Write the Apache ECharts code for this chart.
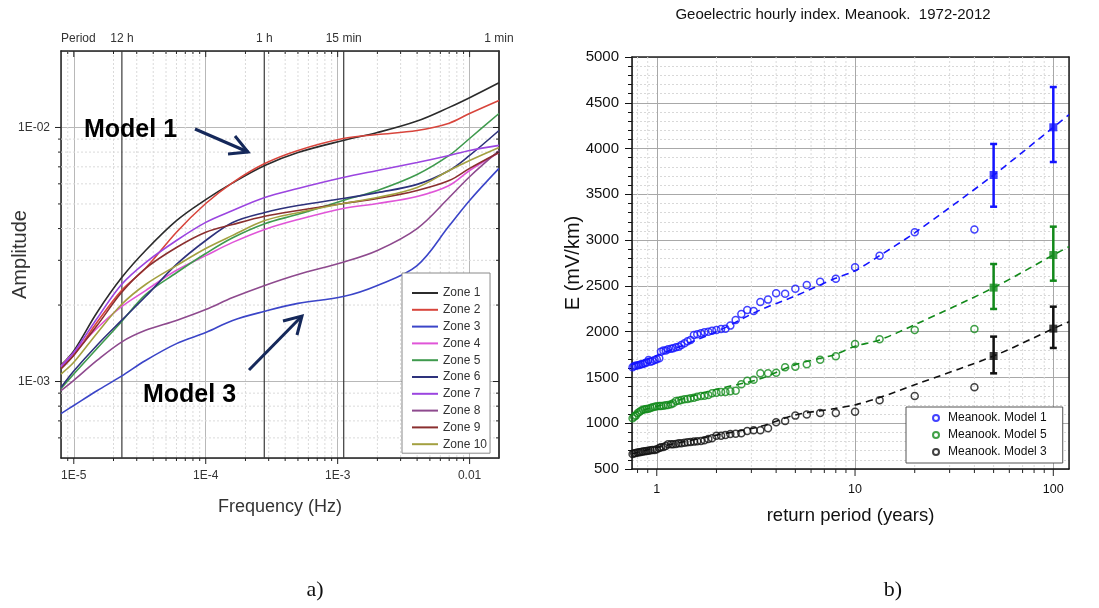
<!DOCTYPE html>
<html>
<head>
<meta charset="utf-8">
<script src="https://cdn.jsdelivr.net/npm/echarts@6/dist/echarts.min.js"></script>
<style>
  html, body { margin: 0; padding: 0; background: #fff; }
  #chart { width: 1099px; height: 608px; }
</style>
</head>
<body>
<div id="chart"></div>
<script>
// ---- panel a) : amplitude vs frequency ----
const freqHz = [8e-6, 1e-5, 1.5e-5, 2.3e-5, 3.5e-5, 6e-5, 1e-4, 1.6e-4, 2.8e-4, 5e-4, 1.1e-3, 2e-3, 4e-3, 7e-3, 1e-2, 1.67e-2]; // sample frequencies
const zoneNames = ["Zone 1", "Zone 2", "Zone 3", "Zone 4", "Zone 5", "Zone 6", "Zone 7", "Zone 8", "Zone 9", "Zone 10"];
const zoneColors = ["#2b2b2b", "#d8453c", "#3b45c8", "#e055d8", "#3f9a4e", "#2e327c", "#9b45e0", "#8e4a8e", "#8a2f2f", "#a3a040"];
const zone1 = [0.00116, 0.00132, 0.00187, 0.00256, 0.00328, 0.0043, 0.0052, 0.00605, 0.00708, 0.00797, 0.00889, 0.00955, 0.0106, 0.012, 0.0131, 0.0150];
const zone2 = [0.00114, 0.00127, 0.00171, 0.00228, 0.00279, 0.00387, 0.00502, 0.00607, 0.00721, 0.00812, 0.00905, 0.00938, 0.00973, 0.0104, 0.01135, 0.01277];
const zone3 = [0.000748, 0.000805, 0.00092, 0.00105, 0.00121, 0.00141, 0.00156, 0.00174, 0.00189, 0.00203, 0.00216, 0.00239, 0.00286, 0.0041, 0.00516, 0.0069];
const zone4 = [0.00115, 0.0013, 0.00162, 0.00197, 0.00228, 0.00274, 0.00313, 0.00353, 0.00397, 0.00434, 0.0048, 0.00502, 0.00535, 0.00591, 0.00677, 0.00797];
const zone5 = [0.00094, 0.00107, 0.00135, 0.00172, 0.0022, 0.00268, 0.00319, 0.00368, 0.00418, 0.00455, 0.00516, 0.00565, 0.00653, 0.00776, 0.00905, 0.01135];
const zone6 = [0.000947, 0.0011, 0.00139, 0.00174, 0.00216, 0.00289, 0.00359, 0.00423, 0.00463, 0.00493, 0.00525, 0.00554, 0.00597, 0.00677, 0.00776, 0.00973];
const zone7 = [0.00114, 0.0013, 0.00177, 0.00241, 0.00294, 0.00359, 0.00423, 0.00471, 0.0053, 0.00575, 0.00635, 0.00677, 0.00728, 0.00776, 0.00812, 0.0085];
const zone8 = [0.00092, 0.00101, 0.00121, 0.00143, 0.00159, 0.00174, 0.00192, 0.00214, 0.00239, 0.00264, 0.00295, 0.00328, 0.0040, 0.0053, 0.0064, 0.0081];
const zone9 = [0.00112, 0.00127, 0.00166, 0.00224, 0.00279, 0.00337, 0.00387, 0.00415, 0.00447, 0.00471, 0.00502, 0.00525, 0.00565, 0.00618, 0.0069, 0.00797];
const zone10 = [0.00107, 0.00119, 0.00155, 0.00201, 0.00241, 0.00286, 0.00334, 0.00376, 0.0043, 0.00462, 0.00502, 0.0053, 0.00581, 0.00677, 0.00741, 0.00834];
const zoneValues = [zone1, zone2, zone3, zone4, zone5, zone6, zone7, zone8, zone9, zone10];

const periodFreq = [2.3148e-5, 2.7778e-4, 1.1111e-3, 0.016667]; // 12 h, 1 h, 15 min, 1 min
const periodLabels = ["12 h", "1 h", "15 min", "1 min"];
const freqMin = 8e-6; // x axis range
const freqMax = 0.0167;
const ampMin = 5e-4; // y axis range
const ampMax = 2e-2;
const leftMajorX = [1e-5, 1e-4, 1e-3, 1e-2];
const leftMinorX = [9e-6, 2e-5, 3e-5, 4e-5, 5e-5, 6e-5, 7e-5, 8e-5, 9e-5, 2e-4, 3e-4, 4e-4, 5e-4, 6e-4, 7e-4, 8e-4, 9e-4, 2e-3, 3e-3, 4e-3, 5e-3, 6e-3, 7e-3, 8e-3, 9e-3];
const leftMajorY = [1e-3, 1e-2];
const leftMinorY = [6e-4, 7e-4, 8e-4, 9e-4, 2e-3, 3e-3, 4e-3, 5e-3, 6e-3, 7e-3, 8e-3, 9e-3];

// ---- panel b) : geoelectric index vs return period ----
const returnPeriod = [40, 20, 13.3, 10, 8, 6.67, 5.71, 5, 4.44, 4, 3.64, 3.33, 3.08, 2.86, 2.67, 2.5, 2.35, 2.22, 2.11, 2, 1.9, 1.82, 1.74, 1.67, 1.6, 1.54, 1.48, 1.43, 1.38, 1.33, 1.29, 1.25, 1.21, 1.18, 1.14, 1.11, 1.08, 1.05, 1.03, 1, 0.976, 0.952, 0.93, 0.909, 0.889, 0.87, 0.851, 0.833, 0.816, 0.8, 0.784, 0.769, 0.755];
const model1Pts = [3115, 3085, 2830, 2703, 2579, 2545, 2510, 2468, 2415, 2420, 2350, 2325, 2226, 2237, 2193, 2128, 2066, 2033, 2029, 2018, 2011, 2000, 1993, 1982, 1971, 1964, 1909, 1895, 1873, 1855, 1836, 1829, 1818, 1814, 1807, 1793, 1793, 1782, 1709, 1698, 1691, 1680, 1672, 1691, 1662, 1654, 1647, 1643, 1636, 1632, 1629, 1625, 1611];
const model5Pts = [2029, 2018, 1916, 1865, 1731, 1694, 1643, 1618, 1611, 1552, 1545, 1545, 1476, 1465, 1425, 1356, 1349, 1341, 1341, 1334, 1327, 1308, 1301, 1298, 1290, 1279, 1272, 1265, 1261, 1254, 1246, 1243, 1217, 1206, 1199, 1195, 1192, 1188, 1188, 1185, 1181, 1174, 1166, 1159, 1155, 1152, 1148, 1137, 1123, 1108, 1083, 1072, 1054];
const model3Pts = [1392, 1298, 1250, 1126, 1112, 1112, 1094, 1083, 1024, 1010, 944, 923, 923, 915, 890, 886, 882, 872, 864, 864, 835, 828, 813, 806, 802, 799, 795, 791, 788, 781, 781, 773, 770, 770, 770, 751, 740, 737, 729, 715, 708, 708, 704, 700, 697, 693, 690, 686, 682, 679, 675, 671, 664];

const fitPeriod = [0.75, 1, 2, 3.27, 5, 7.9, 10, 13.3, 20, 50, 100, 120]; // dashed fitted curves
const model1Fit = [1640, 1740, 2000, 2230, 2390, 2580, 2665, 2830, 3080, 3711, 4232, 4370];
const model5Fit = [1110, 1185, 1370, 1480, 1640, 1750, 1840, 1910, 2075, 2481, 2837, 2928];
const model3Fit = [665, 735, 870, 960, 1090, 1160, 1200, 1280, 1420, 1734, 2033, 2109];

const errPeriod = [50, 100]; // estimates with error bars
const model1Mid = [3711, 4232];
const model1Lo = [3365, 3853];
const model1Hi = [4050, 4672];
const model5Mid = [2481, 2837];
const model5Lo = [2248, 2557];
const model5Hi = [2739, 3147];
const model3Mid = [1734, 2033];
const model3Lo = [1545, 1822];
const model3Hi = [1946, 2273];

const modelNames = ["Meanook. Model 1", "Meanook. Model 5", "Meanook. Model 3"];
const modelColors = ["#1414ff", "#12891a", "#111111"];
const rpMin = 0.75;
const rpMax = 120;
const rightMajorX = [1, 10, 100];
const rightMinorX = [0.8, 0.9, 2, 3, 4, 5, 6, 7, 8, 9, 20, 30, 40, 50, 60, 70, 80, 90];

const fontFam = '"Liberation Sans", Arial, sans-serif';
const myChart = echarts.init(document.getElementById("chart"));

// is v a power of ten
function isDecade(v) {
  const e = Math.log10(v);
  return Math.abs(e - Math.round(e)) < 1e-6;
}

// short tick mark drawn from an axis edge (0 bottom-out, 1 top-in, 2 left-out, 3 right-in)
function renderTick(params, api) {
  const p = api.coord([api.value(0), api.value(1)]);
  const side = api.value(2);
  const len = api.value(3);
  let x2 = p[0];
  let y2 = p[1];
  if (side === 0 || side === 1) y2 += len;
  else x2 -= len;
  return {
    type: "line",
    shape: { x1: p[0], y1: p[1], x2: x2, y2: y2 },
    style: { stroke: "#222", lineWidth: 1 },
  };
}

// dashed minor grid line across the whole grid (0 vertical, 1 horizontal)
function renderGridLine(params, api) {
  const cs = params.coordSys;
  const p = api.coord([api.value(0), api.value(1)]);
  const shape = api.value(2) === 0
    ? { x1: p[0], y1: cs.y, x2: p[0], y2: cs.y + cs.height }
    : { x1: cs.x, y1: p[1], x2: cs.x + cs.width, y2: p[1] };
  return { type: "line", shape: shape, style: { stroke: "#dadada", lineWidth: 1, lineDash: [2, 2] } };
}

// period marker: vertical line plus label above the frame
function renderPeriod(params, api) {
  const cs = params.coordSys;
  const p = api.coord([api.value(0), api.value(1)]);
  return {
    type: "group",
    children: [
      { type: "line", shape: { x1: p[0], y1: cs.y, x2: p[0], y2: cs.y + cs.height }, style: { stroke: "#3a3a3a", lineWidth: 1.2 } },
      {
        type: "text",
        x: p[0],
        y: cs.y - 12,
        style: { text: periodLabels[api.value(2)], font: "12px " + fontFam, fill: "#333", align: "center", verticalAlign: "middle" },
      },
    ],
  };
}

// vertical error bar with caps
function renderErr(params, api) {
  const x = api.value(0);
  const lo = api.coord([x, api.value(1)]);
  const hi = api.coord([x, api.value(2)]);
  const color = api.visual("color");
  const st = { stroke: color, lineWidth: 2.5 };
  return {
    type: "group",
    children: [
      { type: "line", shape: { x1: lo[0], y1: lo[1], x2: hi[0], y2: hi[1] }, style: st },
      { type: "line", shape: { x1: lo[0] - 3.5, y1: lo[1], x2: lo[0] + 3.5, y2: lo[1] }, style: st },
      { type: "line", shape: { x1: hi[0] - 3.5, y1: hi[1], x2: hi[0] + 3.5, y2: hi[1] }, style: st },
    ],
  };
}

// tick data for panel a)
const leftTickData = [];
leftMinorX.forEach(v => leftTickData.push([v, ampMin, 0, 3], [v, ampMax, 1, 3]));
leftMajorX.forEach(v => leftTickData.push([v, ampMin, 0, 6], [v, ampMax, 1, 6]));
leftMinorY.forEach(v => leftTickData.push([freqMin, v, 2, 3], [freqMax, v, 3, 3]));
leftMajorY.forEach(v => leftTickData.push([freqMin, v, 2, 6], [freqMax, v, 3, 6]));
// minor grid data for panel a)
const leftGridData = leftMinorX.map(v => [v, ampMin, 0]).concat(leftMinorY.map(v => [freqMin, v, 1]));
const periodData = periodFreq.map((v, i) => [v, ampMin, i]);

// tick and minor grid data for panel b) (x axis only, y uses native ticks)
const rightTickData = [];
rightMinorX.forEach(v => rightTickData.push([v, 500, 0, 4]));
rightMajorX.forEach(v => rightTickData.push([v, 500, 0, 7]));
const rightGridData = rightMinorX.map(v => [v, 500, 0]);

const minorLine = { color: "#d8d8d8", type: [2, 2], width: 1 };
const labelStyle = { fontFamily: fontFam, color: "#333" };

const series = [];

series.push({
  type: "custom",
  xAxisIndex: 0,
  yAxisIndex: 0,
  silent: true,
  clip: false,
  renderItem: renderGridLine,
  encode: { x: 0, y: 1 },
  data: leftGridData,
  z: 1,
});
series.push({
  type: "custom",
  xAxisIndex: 0,
  yAxisIndex: 0,
  silent: true,
  clip: false,
  renderItem: renderPeriod,
  encode: { x: 0, y: 1 },
  data: periodData,
  z: 1,
});
// zone curves
zoneNames.forEach((name, i) => {
  series.push({
    name: name,
    type: "line",
    xAxisIndex: 0,
    yAxisIndex: 0,
    data: freqHz.map((f, k) => [f, zoneValues[i][k]]),
    smooth: 0.35,
    showSymbol: false,
    symbol: "none",
    itemStyle: { color: zoneColors[i] },
    lineStyle: { color: zoneColors[i], width: 1.6 },
  });
});
series.push({
  type: "custom",
  xAxisIndex: 0,
  yAxisIndex: 0,
  silent: true,
  clip: false,
  renderItem: renderTick,
  encode: { x: 0, y: 1 },
  data: leftTickData,
  z: 5,
});

series.push({
  type: "custom",
  xAxisIndex: 2,
  yAxisIndex: 2,
  silent: true,
  clip: false,
  renderItem: renderGridLine,
  encode: { x: 0, y: 1 },
  data: rightGridData,
  z: 1,
});
const fits = [model1Fit, model5Fit, model3Fit];
const pts = [model1Pts, model5Pts, model3Pts];
const mids = [model1Mid, model5Mid, model3Mid];
const los = [model1Lo, model5Lo, model3Lo];
const his = [model1Hi, model5Hi, model3Hi];
modelNames.forEach((name, i) => {
  series.push({
    type: "line",
    xAxisIndex: 2,
    yAxisIndex: 2,
    data: fitPeriod.map((t, k) => [t, fits[i][k]]),
    smooth: 0.3,
    showSymbol: false,
    symbol: "none",
    silent: true,
    lineStyle: { color: modelColors[i], width: 1.6, type: [7, 5] },
  });
});
modelNames.forEach((name, i) => {
  series.push({
    name: name,
    type: "scatter",
    xAxisIndex: 2,
    yAxisIndex: 2,
    data: returnPeriod.map((t, k) => [t, pts[i][k]]),
    symbol: "circle",
    symbolSize: 7,
    itemStyle: { color: "rgba(255,255,255,0)", borderColor: modelColors[i], borderWidth: 1.5 },
  });
  series.push({
    type: "custom",
    xAxisIndex: 2,
    yAxisIndex: 2,
    renderItem: renderErr,
    encode: { x: 0, y: [1, 2] },
    itemStyle: { color: modelColors[i] },
    data: errPeriod.map((t, k) => [t, los[i][k], his[i][k]]),
    z: 4,
  });
  series.push({
    type: "scatter",
    xAxisIndex: 2,
    yAxisIndex: 2,
    data: errPeriod.map((t, k) => [t, mids[i][k]]),
    symbol: "rect",
    symbolSize: 8,
    itemStyle: { color: modelColors[i] },
    z: 5,
  });
});
series.push({
  type: "custom",
  xAxisIndex: 2,
  yAxisIndex: 2,
  silent: true,
  clip: false,
  renderItem: renderTick,
  encode: { x: 0, y: 1 },
  data: rightTickData,
  z: 5,
});

// plain frame axis (top / right border)
function frameAxis(gridIndex, position, type, min, max) {
  return {
    gridIndex: gridIndex,
    position: position,
    type: type,
    min: min,
    max: max,
    axisLine: { show: true, onZero: false, lineStyle: { color: "#222", width: 1.5 } },
    axisTick: { show: false },
    axisLabel: { show: false },
    splitLine: { show: false },
  };
}

const annoColor = "#15285a"; // arrow colour
const option = {
  animation: false,
  backgroundColor: "#fff",
  grid: [
    { left: 61, top: 51, width: 438, height: 407, outerBoundsMode: "none", containLabel: false },
    { left: 632, top: 57, width: 437, height: 412, outerBoundsMode: "none", containLabel: false },
  ],
  xAxis: [
    {
      gridIndex: 0,
      type: "log",
      min: freqMin,
      max: freqMax,
      name: "Frequency (Hz)",
      nameLocation: "middle",
      nameGap: 40,
      nameMoveOverlap: false,
      nameTextStyle: { fontFamily: fontFam, fontSize: 18, color: "#333" },
      axisLine: { show: true, onZero: false, lineStyle: { color: "#222", width: 1.5 } },
      axisTick: { show: false },
      axisLabel: {
        margin: 12,
        fontSize: 12,
        ...labelStyle,
        formatter: v => {
          if (!isDecade(v)) return "";
          const e = Math.round(Math.log10(v));
          return e === -2 ? "0.01" : "1E" + e;
        },
      },
      splitLine: { show: true, lineStyle: { color: "#b8b8b8", width: 1, type: "solid" } },
    },
    frameAxis(0, "top", "log", freqMin, freqMax),
    {
      gridIndex: 1,
      type: "log",
      min: rpMin,
      max: rpMax,
      name: "return period (years)",
      nameLocation: "middle",
      nameGap: 37,
      nameMoveOverlap: false,
      nameTextStyle: { fontFamily: fontFam, fontSize: 18.5, color: "#111" },
      axisLine: { show: true, onZero: false, lineStyle: { color: "#111", width: 1.5 } },
      axisTick: { show: false },
      axisLabel: {
        margin: 14,
        fontSize: 12.5,
        fontFamily: fontFam,
        color: "#111",
        formatter: v => (isDecade(v) ? String(Math.round(v)) : ""),
      },
      splitLine: { show: true, lineStyle: { color: "#a8a8a8", width: 1, type: "solid" } },
    },
    frameAxis(1, "top", "log", rpMin, rpMax),
  ],
  yAxis: [
    {
      gridIndex: 0,
      type: "log",
      min: ampMin,
      max: ampMax,
      name: "Amplitude",
      nameLocation: "middle",
      nameGap: 31,
      nameMoveOverlap: false,
      nameTextStyle: { fontFamily: fontFam, fontSize: 20, color: "#333" },
      axisLine: { show: true, onZero: false, lineStyle: { color: "#222", width: 1.5 } },
      axisTick: { show: false },
      axisLabel: {
        margin: 11,
        fontSize: 12,
        ...labelStyle,
        formatter: v => {
          if (!isDecade(v)) return "";
          const e = Math.round(Math.log10(v));
          return "1E-0" + Math.abs(e);
        },
      },
      splitLine: { show: true, lineStyle: { color: "#b8b8b8", width: 1, type: "solid" } },
    },
    frameAxis(0, "right", "log", ampMin, ampMax),
    {
      gridIndex: 1,
      type: "value",
      min: 500,
      max: 5000,
      interval: 500,
      name: "E (mV/km)",
      nameLocation: "middle",
      nameGap: 49,
      nameMoveOverlap: false,
      nameTextStyle: { fontFamily: fontFam, fontSize: 20, color: "#111" },
      axisLine: { show: true, onZero: false, lineStyle: { color: "#111", width: 1.5 } },
      axisTick: { show: true, length: 7, lineStyle: { color: "#111" } },
      minorTick: { show: true, splitNumber: 5, length: 4, lineStyle: { color: "#111" } },
      axisLabel: { margin: 13, fontSize: 15, fontFamily: fontFam, color: "#111", formatter: v => String(v) },
      splitLine: { show: true, lineStyle: { color: "#a8a8a8", width: 1, type: "solid" } },
      minorSplitLine: { show: true, lineStyle: minorLine },
    },
    frameAxis(1, "right", "value", 500, 5000),
  ],
  legend: [
    {
      data: zoneNames,
      left: 402,
      top: 273,
      orient: "vertical",
      icon: "rect",
      itemWidth: 26,
      itemHeight: 2,
      itemGap: 4.8,
      padding: [14, 3, 3, 10],
      selectedMode: false,
      backgroundColor: "#fff",
      borderColor: "#8a8a8a",
      borderWidth: 1,
      borderRadius: 0,
      textStyle: { fontFamily: fontFam, fontSize: 12, color: "#333" },
    },
    {
      data: modelNames,
      left: 906,
      top: 407,
      orient: "vertical",
      itemWidth: 14,
      itemHeight: 6,
      itemGap: 5,
      padding: [5, 16, 5, 26],
      selectedMode: false,
      backgroundColor: "#fff",
      borderColor: "#555",
      borderWidth: 1,
      borderRadius: 0,
      textStyle: { fontFamily: fontFam, fontSize: 12, color: "#111" },
    },
  ],
  graphic: [
    { type: "text", z: 100, x: 61, y: 39, style: { text: "Period", font: "12px " + fontFam, fill: "#333", verticalAlign: "middle" } },
    { type: "text", z: 100, x: 84, y: 130, style: { text: "Model 1", font: "bold 25px " + fontFam, fill: "#000", verticalAlign: "middle" } },
    { type: "text", z: 100, x: 143, y: 395, style: { text: "Model 3", font: "bold 25px " + fontFam, fill: "#000", verticalAlign: "middle" } },
    { type: "polyline", z: 100, shape: { points: [[195, 129], [248, 152]] }, style: { stroke: annoColor, lineWidth: 3 } },
    { type: "polyline", z: 100, shape: { points: [[235, 136], [248, 152], [228, 154]] }, style: { stroke: annoColor, lineWidth: 3, fill: null } },
    { type: "polyline", z: 100, shape: { points: [[249, 370], [302, 316]] }, style: { stroke: annoColor, lineWidth: 3 } },
    { type: "polyline", z: 100, shape: { points: [[283, 321], [302, 316], [297, 335]] }, style: { stroke: annoColor, lineWidth: 3, fill: null } },
    { type: "text", z: 100, x: 833, y: 15, style: { text: "Geoelectric hourly index. Meanook.  1972-2012", font: "15px " + fontFam, fill: "#111", align: "center", verticalAlign: "middle" } },
    { type: "text", z: 100, x: 315, y: 590, style: { text: "a)", font: '22px "Liberation Serif", "Times New Roman", serif', fill: "#111", align: "center", verticalAlign: "middle" } },
    { type: "text", z: 100, x: 893, y: 590, style: { text: "b)", font: '22px "Liberation Serif", "Times New Roman", serif', fill: "#111", align: "center", verticalAlign: "middle" } },
  ],
  series: series,
};

myChart.setOption(option);
</script>
</body>
</html>
